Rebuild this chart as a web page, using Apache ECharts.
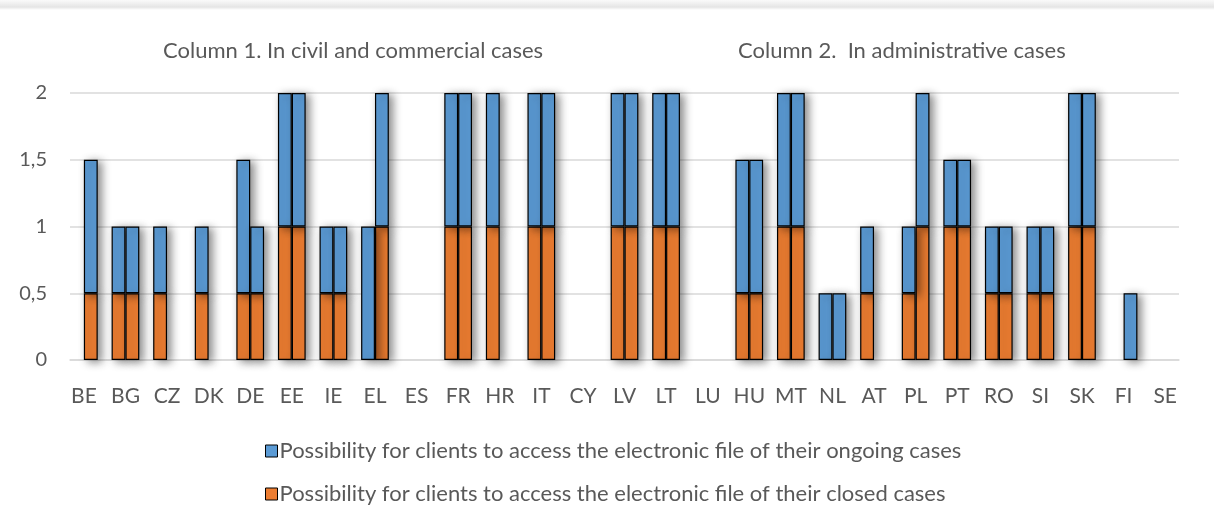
<!DOCTYPE html>
<html>
<head>
<meta charset="utf-8">
<script src="https://cdn.jsdelivr.net/npm/echarts@6/dist/echarts.min.js"></script>
<style>
  html, body { margin: 0; padding: 0; background: #fff; }
  #chart { width: 1214px; height: 527px; }
</style>
</head>
<body>
<div id="chart"></div>
<script>
// countries, one group of three slots each (civil, administrative, gap)
const countries = ["BE", "BG", "CZ", "DK", "DE", "EE", "IE", "EL", "ES", "FR", "HR", "IT", "CY", "LV",
  "LT", "LU", "HU", "MT", "NL", "AT", "PL", "PT", "RO", "SI", "SK", "FI", "SE"];

// column 1: civil and commercial cases
const civilClosed  = [0, 0.5, 0.5, 0.5, 0.5, 1, 0.5, 0, 0, 1, 1, 1, 0, 1, 1, 0, 0.5, 1, 0, 0.5, 0.5, 1, 0.5, 0.5, 1, 0, 0];
const civilOngoing = [0, 0.5, 0.5, 0.5, 1, 1, 0.5, 1, 0, 1, 1, 1, 0, 1, 1, 0, 1, 1, 0.5, 0.5, 0.5, 0.5, 0.5, 0.5, 1, 0, 0];

// column 2: administrative cases
const adminClosed  = [0.5, 0.5, 0, 0, 0.5, 1, 0.5, 1, 0, 1, 0, 1, 0, 1, 1, 0, 0.5, 1, 0, 0, 1, 1, 0.5, 0.5, 1, 0, 0];
const adminOngoing = [1, 0.5, 0, 0, 0.5, 1, 0.5, 1, 0, 1, 0, 1, 0, 1, 1, 0, 1, 1, 0.5, 0, 1, 0.5, 0.5, 0.5, 1, 0.5, 0];

const yTicks = [0, 0.5, 1, 1.5, 2];

const ongoingName = "Possibility for clients to access the electronic file of their ongoing cases";
const closedName = "Possibility for clients to access the electronic file of their closed cases";

// build the slot axis: civil bar, admin bar, empty gap
let slots = [];
let closedData = [];
let ongoingData = [];
countries.forEach((c, i) => {
  const nz = (v) => (v ? v : "-");
  slots.push(c);
  closedData.push(nz(civilClosed[i]));
  ongoingData.push(nz(civilOngoing[i]));
  slots.push("");
  closedData.push(nz(adminClosed[i]));
  ongoingData.push(nz(adminOngoing[i]));
  if (i < countries.length - 1) {
    slots.push(" ");
    closedData.push("-");
    ongoingData.push("-");
  }
});

const font = "Lato";
const textColor = "#595959";

let myChart = echarts.init(document.getElementById("chart"));

const barStyle = (color) => ({
  color: color,
  borderColor: "#000",
  borderWidth: 1.2,
  shadowBlur: 8,
  shadowOffsetX: 4,
  shadowOffsetY: 2,
  shadowColor: "rgba(0,0,0,0.45)",
});

let option = {
  animation: false,
  backgroundColor: "#fff",
  textStyle: { fontFamily: font },
  title: [
    {
      text: "Column 1. In civil and commercial cases",
      left: 158,
      top: 35,
      textStyle: { fontFamily: font, fontSize: 22, fontWeight: "normal", color: textColor },
    },
    {
      text: "Column 2.  In administrative cases",
      left: 733,
      top: 35,
      textStyle: { fontFamily: font, fontSize: 22, fontWeight: "normal", color: textColor },
    },
  ],
  graphic: [
    {
      type: "rect",
      left: 0,
      top: 0,
      shape: { width: 1214, height: 10 },
      style: {
        fill: {
          type: "linear", x: 0, y: 0, x2: 0, y2: 1,
          colorStops: [
            { offset: 0, color: "rgba(0,0,0,0.02)" },
            { offset: 0.7, color: "rgba(0,0,0,0.10)" },
            { offset: 1, color: "rgba(0,0,0,0)" },
          ],
        },
      },
      silent: true,
    },
  ],
  legend: {
    orient: "vertical",
    left: 260,
    top: 435,
    itemWidth: 12,
    itemHeight: 12,
    itemGap: 21,
    icon: "rect",
    data: [ongoingName, closedName],
    itemStyle: { shadowBlur: 0, shadowOffsetX: 0, shadowOffsetY: 0, borderWidth: 1 },
    textStyle: { fontFamily: font, fontSize: 22, color: textColor, padding: [0, 0, 0, -3] },
  },
  grid: {
    left: 70,
    right: 35,
    top: 93,
    bottom: 167,
  },
  xAxis: {
    type: "category",
    data: slots,
    axisTick: { show: false },
    axisLine: { lineStyle: { color: "#d9d9d9", width: 1.5 } },
    axisLabel: {
      interval: 0,
      color: textColor,
      fontFamily: font,
      fontSize: 21,
      margin: 26,
      padding: [0, 0, 0, 14],
    },
  },
  yAxis: {
    type: "value",
    min: yTicks[0],
    max: yTicks[yTicks.length - 1],
    interval: 0.5,
    axisLine: { show: false },
    axisTick: { show: false },
    axisLabel: {
      color: textColor,
      fontFamily: font,
      fontSize: 20,
      margin: 23,
      formatter: (v) => String(v).replace(".", ","),
    },
    splitLine: { lineStyle: { color: "#d9d9d9", width: 1.5 } },
  },
  series: [
    {
      name: closedName,
      type: "bar",
      stack: "total",
      barCategoryGap: "0%",
      itemStyle: barStyle("#ED7D31"),
      data: closedData,
    },
    {
      name: ongoingName,
      type: "bar",
      stack: "total",
      barCategoryGap: "0%",
      itemStyle: barStyle("#5B9BD5"),
      data: ongoingData,
    },
  ],
};

myChart.setOption(option);
</script>
</body>
</html>
